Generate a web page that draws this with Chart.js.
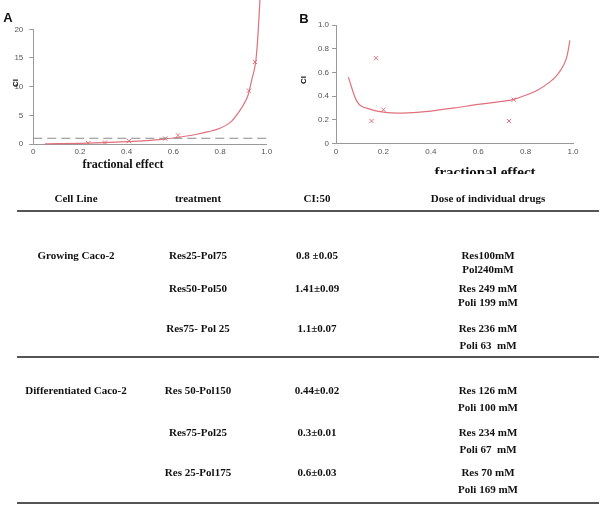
<!DOCTYPE html>
<html>
<head>
<meta charset="utf-8">
<script src="https://cdn.jsdelivr.net/npm/chart.js@4.4.0/dist/chart.umd.min.js"></script>
<style>
  body { margin: 0; width: 600px; height: 505px; position: relative; background: #fff; overflow: hidden; }
  canvas { position: absolute; top: 0; }
  .t { position: absolute; white-space: pre; transform: translate(-50%, -50%); color: #111; }
  .panel { font: bold 13px "Liberation Sans", Arial, sans-serif; }
  .serif { font: bold 11px "Liberation Serif", "Times New Roman", serif; }
  .rot { font: bold 8px "Liberation Sans", Arial, sans-serif; transform: translate(-50%, -50%) rotate(-90deg); }
  #table { position: absolute; left: 0; top: 174px; width: 600px; height: 331px; background: #fff; }
  .rule { position: absolute; left: 17px; width: 582px; height: 2px; background: #555; }
</style>
</head>
<body>
<canvas id="chartA" width="290" height="175" style="left:0"></canvas>
<canvas id="chartB" width="310" height="175" style="left:290px"></canvas>
<div class="t panel" style="left:8px;top:17px">A</div>
<div class="t panel" style="left:304px;top:18px">B</div>
<div class="t rot" style="left:15px;top:83px">CI</div>
<div class="t rot" style="left:303px;top:80px">CI</div>
<div class="t serif" style="left:123px;top:164px;font-size:12px">fractional effect</div>
<div class="t serif" style="left:485px;top:172px;font-size:15px">fractional effect</div>
<div id="table"></div>
<script>
// Panel A: CI vs fractional effect
const aCurveFa = [0.05, 0.1, 0.2, 0.3, 0.4, 0.5, 0.55, 0.6, 0.65, 0.7, 0.75, 0.8, 0.85, 0.886, 0.9, 0.92, 0.936, 0.954, 0.964, 0.971, 0.976];
const aCurveCi = [0.02, 0.05, 0.12, 0.25, 0.42, 0.62, 0.8, 1.05, 1.35, 1.7, 2.15, 2.75, 4.0, 5.9, 6.8, 8.5, 11.2, 14.7, 19.9, 25.1, 30];
const aPointFa = [0.235, 0.307, 0.41, 0.565, 0.62, 0.924, 0.95];
const aPointCi = [0.15, 0.25, 0.5, 0.95, 1.5, 9.3, 14.3];
const aRefFa = [0, 1];
const aRefCi = [1, 1];

// Panel B
const bCurveFa = [0.052, 0.087, 0.143, 0.2, 0.283, 0.4, 0.5, 0.6, 0.7, 0.75, 0.8, 0.85, 0.903, 0.93, 0.96, 0.975, 0.987];
const bCurveCi = [0.56, 0.36, 0.29, 0.265, 0.257, 0.274, 0.3, 0.33, 0.355, 0.373, 0.407, 0.45, 0.52, 0.57, 0.66, 0.74, 0.87];
const bPointFa = [0.15, 0.169, 0.2, 0.73, 0.75];
const bPointCi = [0.19, 0.72, 0.285, 0.19, 0.37];

// Table
const headers = ['Cell Line', 'treatment', 'CI:50', 'Dose of individual drugs'];
const cellLines = ['Growing Caco-2', 'Differentiated Caco-2'];
const treatments = ['Res25-Pol75', 'Res50-Pol50', 'Res75- Pol 25', 'Res 50-Pol150', 'Res75-Pol25', 'Res 25-Pol175'];
const ci50 = ['0.8 \u00b10.05', '1.41\u00b10.09', '1.1\u00b10.07', '0.44\u00b10.02', '0.3\u00b10.01', '0.6\u00b10.03'];
const doseRes = ['Res100mM', 'Res 249 mM', 'Res 236 mM', 'Res 126 mM', 'Res 234 mM', 'Res 70 mM'];
const dosePol = ['Pol240mM', 'Poli 199 mM', 'Poli 63  mM', 'Poli 100 mM', 'Poli 67  mM', 'Poli 169 mM'];

const curveColor = '#e0707c';
const axisColor = '#999';

Chart.defaults.font.family = '"Liberation Sans", Arial, sans-serif';

function toXY(xs, ys) {
  return xs.map((x, i) => ({ x: x, y: ys[i] }));
}

function decFmt(v) {
  return v === 0 ? '0' : v.toFixed(1);
}

// area = chart area box in canvas pixels
function buildPanel(id, datasets, yMax, yStep, yFmt, area, yPad) {
  const cv = document.getElementById(id);
  return new Chart(cv, {
    type: 'line',
    data: { datasets: datasets },
    options: {
      responsive: false,
      animation: false,
      layout: { padding: { top: area.top, right: cv.width - area.right, left: 0, bottom: 0 } },
      plugins: { legend: { display: false }, tooltip: { enabled: false } },
      scales: {
        x: {
          type: 'linear', min: 0, max: 1,
          afterFit: s => { s.height = cv.height - area.bottom; },
          ticks: { stepSize: 0.2, padding: 3, color: '#555', font: { size: 8 }, maxRotation: 0, callback: decFmt },
          grid: { drawOnChartArea: false, drawTicks: false },
          border: { color: axisColor }
        },
        y: {
          min: 0, max: yMax,
          afterFit: s => { s.width = area.left; },
          ticks: { stepSize: yStep, padding: yPad, color: '#555', font: { size: 8 }, callback: yFmt },
          grid: { drawOnChartArea: false, tickLength: 4, color: axisColor },
          border: { color: axisColor }
        }
      }
    }
  });
}

const curveStyle = { borderColor: curveColor, borderWidth: 1.2, pointRadius: 0, cubicInterpolationMode: 'monotone', fill: false };
const markStyle = { showLine: false, pointStyle: 'crossRot', pointRadius: 3, pointBorderColor: curveColor, pointBorderWidth: 1, borderColor: curveColor };

buildPanel('chartA', [
  Object.assign({ data: toXY(aRefFa, aRefCi), borderColor: '#8a8a8a', borderWidth: 1, borderDash: [9, 5], pointRadius: 0 }),
  Object.assign({ data: toXY(aCurveFa, aCurveCi), clip: false }, curveStyle),
  Object.assign({ data: toXY(aPointFa, aPointCi) }, markStyle)
], 20, 5, v => String(v), { left: 33.3, right: 266.7, top: 29.3, bottom: 144 }, 6);

buildPanel('chartB', [
  Object.assign({ data: toXY(bCurveFa, bCurveCi) }, curveStyle),
  Object.assign({ data: toXY(bPointFa, bPointCi), pointRadius: 2.5 }, markStyle)
], 1, 0.2, decFmt, { left: 46, right: 283, top: 25, bottom: 143.5 }, 3);

// table text, absolute positions relative to the page
const table = document.getElementById('table');
const colX = [76, 198, 317, 488];
const rowY = [255, 288, 328, 390, 432, 472];
const top0 = 174;

function put(text, x, y) {
  const d = document.createElement('div');
  d.className = 't serif';
  d.textContent = text;
  d.style.left = x + 'px';
  d.style.top = (y - top0) + 'px';
  table.appendChild(d);
}
function rule(y) {
  const d = document.createElement('div');
  d.className = 'rule';
  d.style.top = (y - top0 - 1) + 'px';
  table.appendChild(d);
}

headers.forEach((h, i) => put(h, colX[i], 198));
rule(211);
put(cellLines[0], colX[0], rowY[0]);
put(cellLines[1], colX[0], rowY[3]);
treatments.forEach((t, i) => {
  put(t, colX[1], rowY[i]);
  put(ci50[i], colX[2], rowY[i]);
  put(doseRes[i], colX[3], rowY[i]);
  put(dosePol[i], colX[3], rowY[i] + (i < 2 ? 14 : 17));
});
rule(357);
rule(503);
</script>
</body>
</html>
